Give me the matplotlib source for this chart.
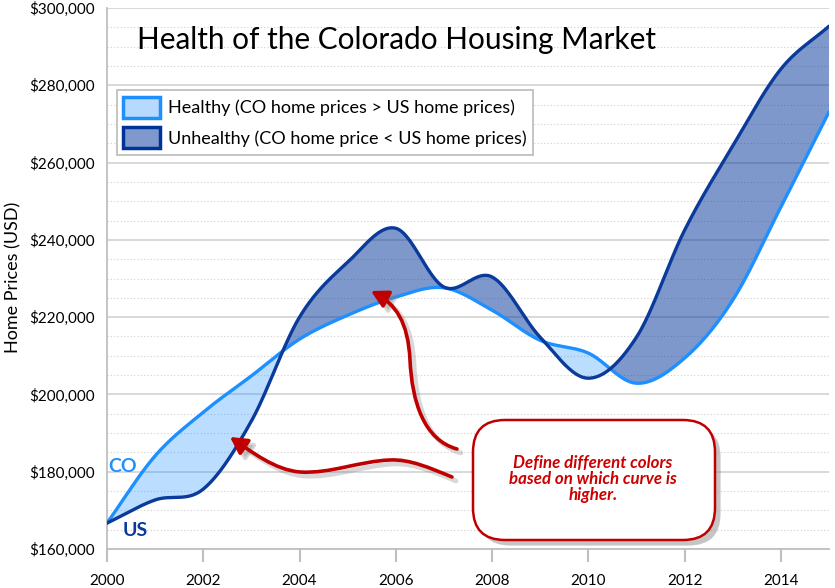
import numpy as np
import matplotlib
matplotlib.use("Agg")
import matplotlib.pyplot as plt
import matplotlib.ticker as mtick
import matplotlib.patheffects as pe
from matplotlib.patches import Patch, FancyBboxPatch, FancyArrowPatch
from matplotlib.path import Path
from matplotlib.transforms import offset_copy

plt.rcParams['font.family'] = ['Lato', 'DejaVu Sans']

# Datos (precio medio de vivienda, USD)
years = [2000, 2001, 2002, 2003, 2004, 2005, 2006, 2007,
         2008, 2009, 2010, 2011, 2012, 2013, 2014, 2015]
co_prices = [166700, 184100, 195400, 204800, 214300, 220500, 225200, 227600,
             221800, 214000, 210700, 202900, 209400, 224400, 248500, 273100]
us_prices = [166700, 172700, 175500, 193100, 220000, 234200, 243000, 227800,
             230400, 214800, 204200, 214800, 242500, 264300, 284200, 295300]

xticks = [2000, 2002, 2004, 2006, 2008, 2010, 2012, 2014]

CO_COLOR = '#1e8fff'
US_COLOR = '#0a3a9a'
RED = '#c00000'


def suavizar(x, y, n=40):
    """Curva tipo Catmull-Rom (como la linea suavizada de Excel)."""
    x = np.asarray(x, float)
    y = np.asarray(y, float)
    px = np.concatenate([[2 * x[0] - x[1]], x, [2 * x[-1] - x[-2]]])
    py = np.concatenate([[2 * y[0] - y[1]], y, [2 * y[-1] - y[-2]]])
    xs, ys = [], []
    t = np.linspace(0, 1, n, endpoint=False)
    for i in range(1, len(px) - 2):
        p0, p1, p2, p3 = py[i - 1], py[i], py[i + 1], py[i + 2]
        ys.append(0.5 * ((2 * p1) + (-p0 + p2) * t +
                         (2 * p0 - 5 * p1 + 4 * p2 - p3) * t ** 2 +
                         (-p0 + 3 * p1 - 3 * p2 + p3) * t ** 3))
        xs.append(px[i] + (px[i + 1] - px[i]) * t)
    xs.append([x[-1]])
    ys.append([y[-1]])
    return np.concatenate(xs), np.concatenate(ys)


xs, co_s = suavizar(years, co_prices)
_, us_s = suavizar(years, us_prices)

fig = plt.figure(figsize=(8.35, 5.88), dpi=100)
ax = fig.add_axes([0.1281, 0.0663, 0.8647, 0.9201])

# Rellenos segun la curva que esta arriba
ax.fill_between(xs, co_s, us_s, where=co_s >= us_s, interpolate=True,
                color=CO_COLOR, alpha=0.3, linewidth=0, zorder=2)
ax.fill_between(xs, co_s, us_s, where=us_s >= co_s, interpolate=True,
                color='#003399', alpha=0.5, linewidth=0, zorder=2)
ax.plot(xs, co_s, color=CO_COLOR, lw=2.4, zorder=3, solid_capstyle='round')
ax.plot(xs, us_s, color=US_COLOR, lw=2.4, zorder=3, solid_capstyle='round')

ax.set_xlim(2000, 2015)
ax.set_ylim(160000, 300000)
ax.set_xticks(xticks)
ax.yaxis.set_major_locator(mtick.MultipleLocator(20000))
ax.yaxis.set_minor_locator(mtick.MultipleLocator(5000))
ax.yaxis.set_major_formatter(mtick.FuncFormatter(lambda v, _: f'${int(v):,}'))
ax.set_axisbelow(True)
ax.grid(axis='y', which='major', color='#d6d6d6', lw=1.3)
ax.grid(axis='y', which='minor', color='#cfcfcf', lw=0.8, ls=(0, (1, 2)))
for s in ['top', 'right']:
    ax.spines[s].set_visible(False)
for s in ['left', 'bottom']:
    ax.spines[s].set_color('#bfbfbf')
    ax.spines[s].set_linewidth(1.3)
ax.tick_params(axis='x', direction='out', length=9, width=1.5, color='#bfbfbf',
               labelsize=11, pad=9)
ax.tick_params(axis='y', which='both', length=0, labelsize=11, pad=9)
fig.text(13 / 835, 1 - 277 / 588, 'Home Prices (USD)', rotation=90,
         fontsize=13, ha='center', va='center')

ax.text(137 / 835, 1 - 40 / 588, 'Health of the Colorado Housing Market',
        transform=fig.transFigure, fontsize=21.4, va='center', ha='left')

handles = [Patch(facecolor='#b7d9fd', edgecolor=CO_COLOR, lw=2.5,
                 label='Healthy (CO home prices > US home prices)'),
           Patch(facecolor='#7f99cc', edgecolor='#003399', lw=2.5,
                 label='Unhealthy (CO home price < US home prices)')]
leg = ax.legend(handles=handles, loc='upper left', bbox_to_anchor=(0.0139, 0.848),
                fontsize=13, fancybox=False, edgecolor='#bfbfbf', framealpha=1,
                handlelength=2.05, handleheight=1.45, borderpad=0.35, labelspacing=0.5,
                handletextpad=0.45, borderaxespad=0)
leg.get_frame().set_linewidth(1.3)

ax.text(2000.02, 181300, 'CO', color=CO_COLOR, fontsize=14, fontweight='bold',
        va='center', ha='left')
ax.text(2000.33, 164900, 'US', color=US_COLOR, fontsize=14, fontweight='bold',
        va='center', ha='left')


# Globo de texto y flechas (coordenadas en pixeles de la figura)
def px(x, y):
    return (x / 100.0, (588 - y) / 100.0)


caja = FancyBboxPatch(px(473, 540), 2.42, 1.20,
                      boxstyle='round,pad=0,rounding_size=0.32',
                      transform=fig.dpi_scale_trans, facecolor='white',
                      edgecolor=RED, lw=1.8, zorder=5,
                      path_effects=[pe.withSimplePatchShadow(offset=(4, -4),
                                                            shadow_rgbFace='gray',
                                                            alpha=0.45)])
fig.add_artist(caja)
fig.text(593 / 835, 1 - 479 / 588,
         'Define different colors\nbased on which curve is\nhigher.',
         color='#cc0000', fontsize=12.2, fontweight='bold', fontstyle='italic',
         ha='center', va='center', linespacing=1.0, zorder=6)

flechas = [
    [(452, 477), (430, 468), (410, 459), (390, 460),
     (360, 461), (330, 474), (300, 472),
     (275, 470), (252, 452), (230, 437)],
    [(457, 449), (424, 440), (412, 402), (410, 360),
     (408, 322), (396, 304), (371, 291)],
]
sombra_tr = offset_copy(fig.dpi_scale_trans, fig=fig, x=4, y=-4, units='dots')
for pts in flechas:
    verts = [px(*p) for p in pts]
    codes = [Path.MOVETO] + [Path.CURVE4] * (len(verts) - 1)
    estilo = '-|>,head_length=10,head_width=5.5'
    sombra = FancyArrowPatch(path=Path(verts, codes), arrowstyle=estilo,
                             color='gray', alpha=0.3, lw=3.4, transform=sombra_tr,
                             zorder=3.9)
    fig.add_artist(sombra)
    arr = FancyArrowPatch(path=Path(verts, codes), arrowstyle=estilo,
                          color=RED, lw=2.6, transform=fig.dpi_scale_trans, zorder=4)
    fig.add_artist(arr)

fig.savefig('out.png', dpi=100)
